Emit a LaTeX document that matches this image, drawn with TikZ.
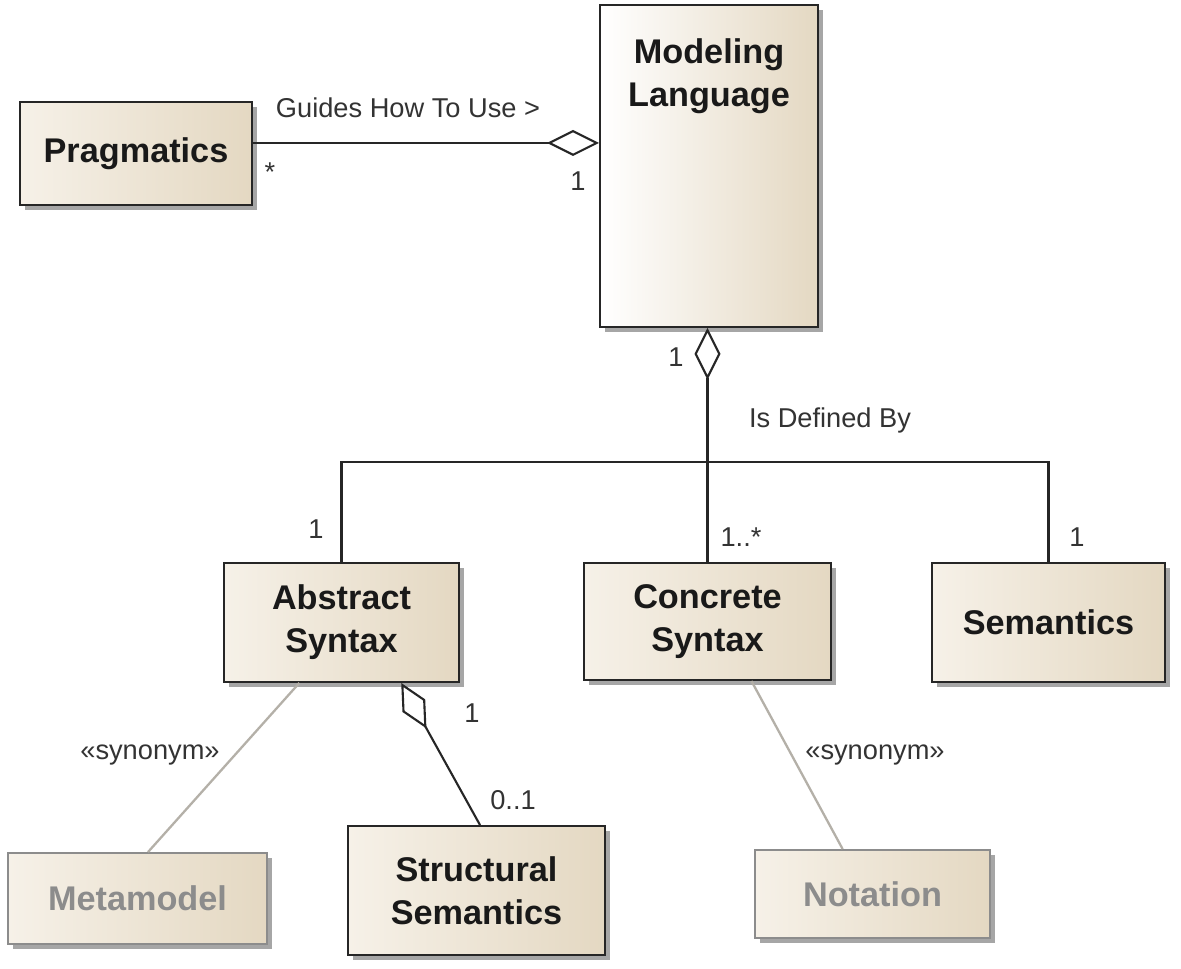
\documentclass[tikz,border=0pt]{standalone}
\usepackage{fontspec}
\setmainfont{Liberation Sans}
\usetikzlibrary{arrows.meta, shadows}
\definecolor{boxlight}{HTML}{F6F1E8}
\definecolor{boxdark}{HTML}{E4D8C2}
\definecolor{linkgray}{HTML}{B4B0A8}
\definecolor{ghost}{HTML}{8C8C8C}
\definecolor{labeltext}{HTML}{333333}

\begin{document}
\begin{tikzpicture}[x=0.02cm, y=-0.02cm,
    clsname/.style={align=center, font=\fontsize{19.5}{24.5}\selectfont\bfseries, text=black!90},
    cls/.style={clsname, draw=black!85, line width=1.1pt, left color=boxlight, right color=boxdark,
      drop shadow={shadow xshift=2.8pt, shadow yshift=-2.8pt, fill=black!35, opacity=1}},
    ghostcls/.style={cls, draw=ghost, text=ghost},
    lbl/.style={font=\fontsize{15.5}{18}\selectfont, text=labeltext, inner sep=1pt},
    assoc/.style={line width=1.2pt, black!85},
    aggr/.style={assoc, -{Diamond[length=1.04cm, width=0.52cm, fill=white]}},
    syn/.style={line width=1.3pt, linkgray}]
    \path[use as bounding box, fill=white] (0,0) rectangle (1181,969);

    % classes
    \node[cls, minimum width=4.64cm, minimum height=2.06cm] (prag) at (136,153.5) {Pragmatics};
    \node[cls, left color=white, minimum width=4.36cm, minimum height=6.44cm] (lang) at (709,166) {};
    \node[clsname, anchor=north] (langname) at ([yshift=-16pt]lang.north) {Modeling\\Language};
    \node[cls, minimum width=4.7cm, minimum height=2.38cm] (abs) at (341.5,622.5) {Abstract\\Syntax};
    \node[cls, minimum width=4.94cm, minimum height=2.34cm] (conc) at (707.5,621.5) {Concrete\\Syntax};
    \node[cls, minimum width=4.66cm, minimum height=2.38cm] (sem) at (1048.5,622.5) {Semantics};
    \node[ghostcls, minimum width=5.18cm, minimum height=1.82cm] (meta) at (137.5,898.5) {Metamodel};
    \node[cls, minimum width=5.14cm, minimum height=2.58cm] (struct) at (476.5,890.5) {Structural\\Semantics};
    \node[ghostcls, minimum width=4.7cm, minimum height=1.76cm] (nota) at (872.5,894) {Notation};

    % links
    \draw[aggr] ([yshift=6pt]prag.east) -- ([yshift=6pt]prag.east -| lang.west);
    \coordinate (bus) at (708,462);
    \draw[aggr] (conc.north) -- (conc.north |- lang.south);
    \draw[assoc] (abs.north) |- (bus) -| (sem.north);
    \draw[aggr] ([xshift=2pt]struct.north) -- ([xshift=34pt]abs.south);
    \draw[syn] ([xshift=6pt]meta.north) -- ([xshift=-24pt]abs.south);
    \draw[syn] ([xshift=-17pt]nota.north) -- ([xshift=25pt]conc.south);

    % labels
    \node[lbl] (guides) at (408,108) {Guides How To Use >};
    \node[lbl] (pragmult) at (270,172) {*};
    \node[lbl] (langmult) at (578,181) {1};
    \node[lbl] (wholemult) at (676,357) {1};
    \node[lbl] (defined) at (830,420) {Is Defined By};
    \node[lbl] (absmult) at (316,529) {1};
    \node[lbl] (concmult) at (741,537) {1..*};
    \node[lbl] (semmult) at (1077,537) {1};
    \node[lbl] (synleft) at (150,755) {«synonym»};
    \node[lbl] (absown) at (472,713) {1};
    \node[lbl] (structmult) at (513,800) {0..1};
    \node[lbl] (synright) at (875,755) {«synonym»};
\end{tikzpicture}
\end{document}
